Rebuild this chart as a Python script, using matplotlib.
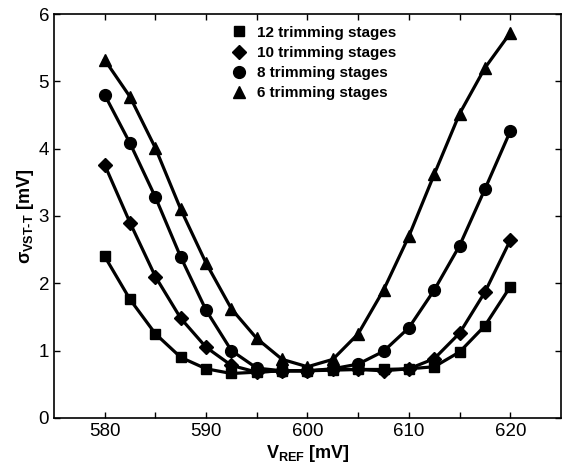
import numpy as np
import matplotlib.pyplot as plt
from matplotlib.ticker import MultipleLocator

plt.rcParams['font.family'] = 'Liberation Sans'
plt.rcParams['mathtext.fontset'] = 'custom'
plt.rcParams['mathtext.rm'] = 'Liberation Sans:bold'
plt.rcParams['mathtext.it'] = 'Liberation Sans:bold'
plt.rcParams['mathtext.bf'] = 'Liberation Sans:bold'

vref = [580, 582.5, 585, 587.5, 590, 592.5, 595, 597.5, 600,
        602.5, 605, 607.5, 610, 612.5, 615, 617.5, 620]

s12 = [2.40, 1.76, 1.25, 0.90, 0.73, 0.66, 0.68, 0.70, 0.70,
       0.71, 0.72, 0.72, 0.73, 0.76, 0.98, 1.37, 1.95]
s10 = [3.76, 2.90, 2.10, 1.48, 1.05, 0.78, 0.68, 0.70, 0.70,
       0.72, 0.72, 0.70, 0.73, 0.88, 1.26, 1.87, 2.64]
s8 = [4.80, 4.08, 3.28, 2.39, 1.60, 1.00, 0.74, 0.70, 0.70,
      0.73, 0.80, 0.99, 1.34, 1.90, 2.56, 3.40, 4.26]
s6 = [5.32, 4.77, 4.01, 3.10, 2.30, 1.62, 1.18, 0.87, 0.76,
      0.87, 1.25, 1.90, 2.70, 3.62, 4.52, 5.20, 5.72]

labels = ['12 trimming stages', '10 trimming stages',
          '8 trimming stages', '6 trimming stages']
markers = ['s', 'D', 'o', '^']
sizes = [7, 7, 8.5, 8]

fig = plt.figure(figsize=(5.64, 4.68), dpi=100)
ax = fig.add_axes([0.0957, 0.107, 0.899, 0.863])

for y, lab, m, ms in zip([s12, s10, s8, s6], labels, markers, sizes):
    ax.plot(vref, y, color='black', lw=2.3, marker=m, ms=ms, label=lab)

ax.set_xlim(575, 625)
ax.set_ylim(0, 6)
ax.yaxis.set_major_locator(MultipleLocator(1))
ax.set_xticks([580, 585, 590, 595, 600, 605, 610, 615, 620])
ax.set_xticklabels(['580', '', '590', '', '600', '', '610', '', '620'])
ax.tick_params(direction='in', top=True, right=True, labelsize=13.5, length=4, width=1)
for sp in ax.spines.values():
    sp.set_linewidth(1.2)

ax.set_xlabel(r'V$_{\mathrm{REF}}$ [mV]', fontsize=13, fontweight='bold', labelpad=2)
ax.set_ylabel(r'$\sigma_{\mathrm{VST\text{-}T}}$ [mV]', fontsize=13, fontweight='bold', labelpad=2)

leg = ax.legend(loc='upper center', bbox_to_anchor=(0.52, 1.005), frameon=False,
                handlelength=0, numpoints=1, handletextpad=1.2,
                labelspacing=0.4, prop={'weight': 'bold', 'size': 11})

fig.savefig('out.png', dpi=100)
